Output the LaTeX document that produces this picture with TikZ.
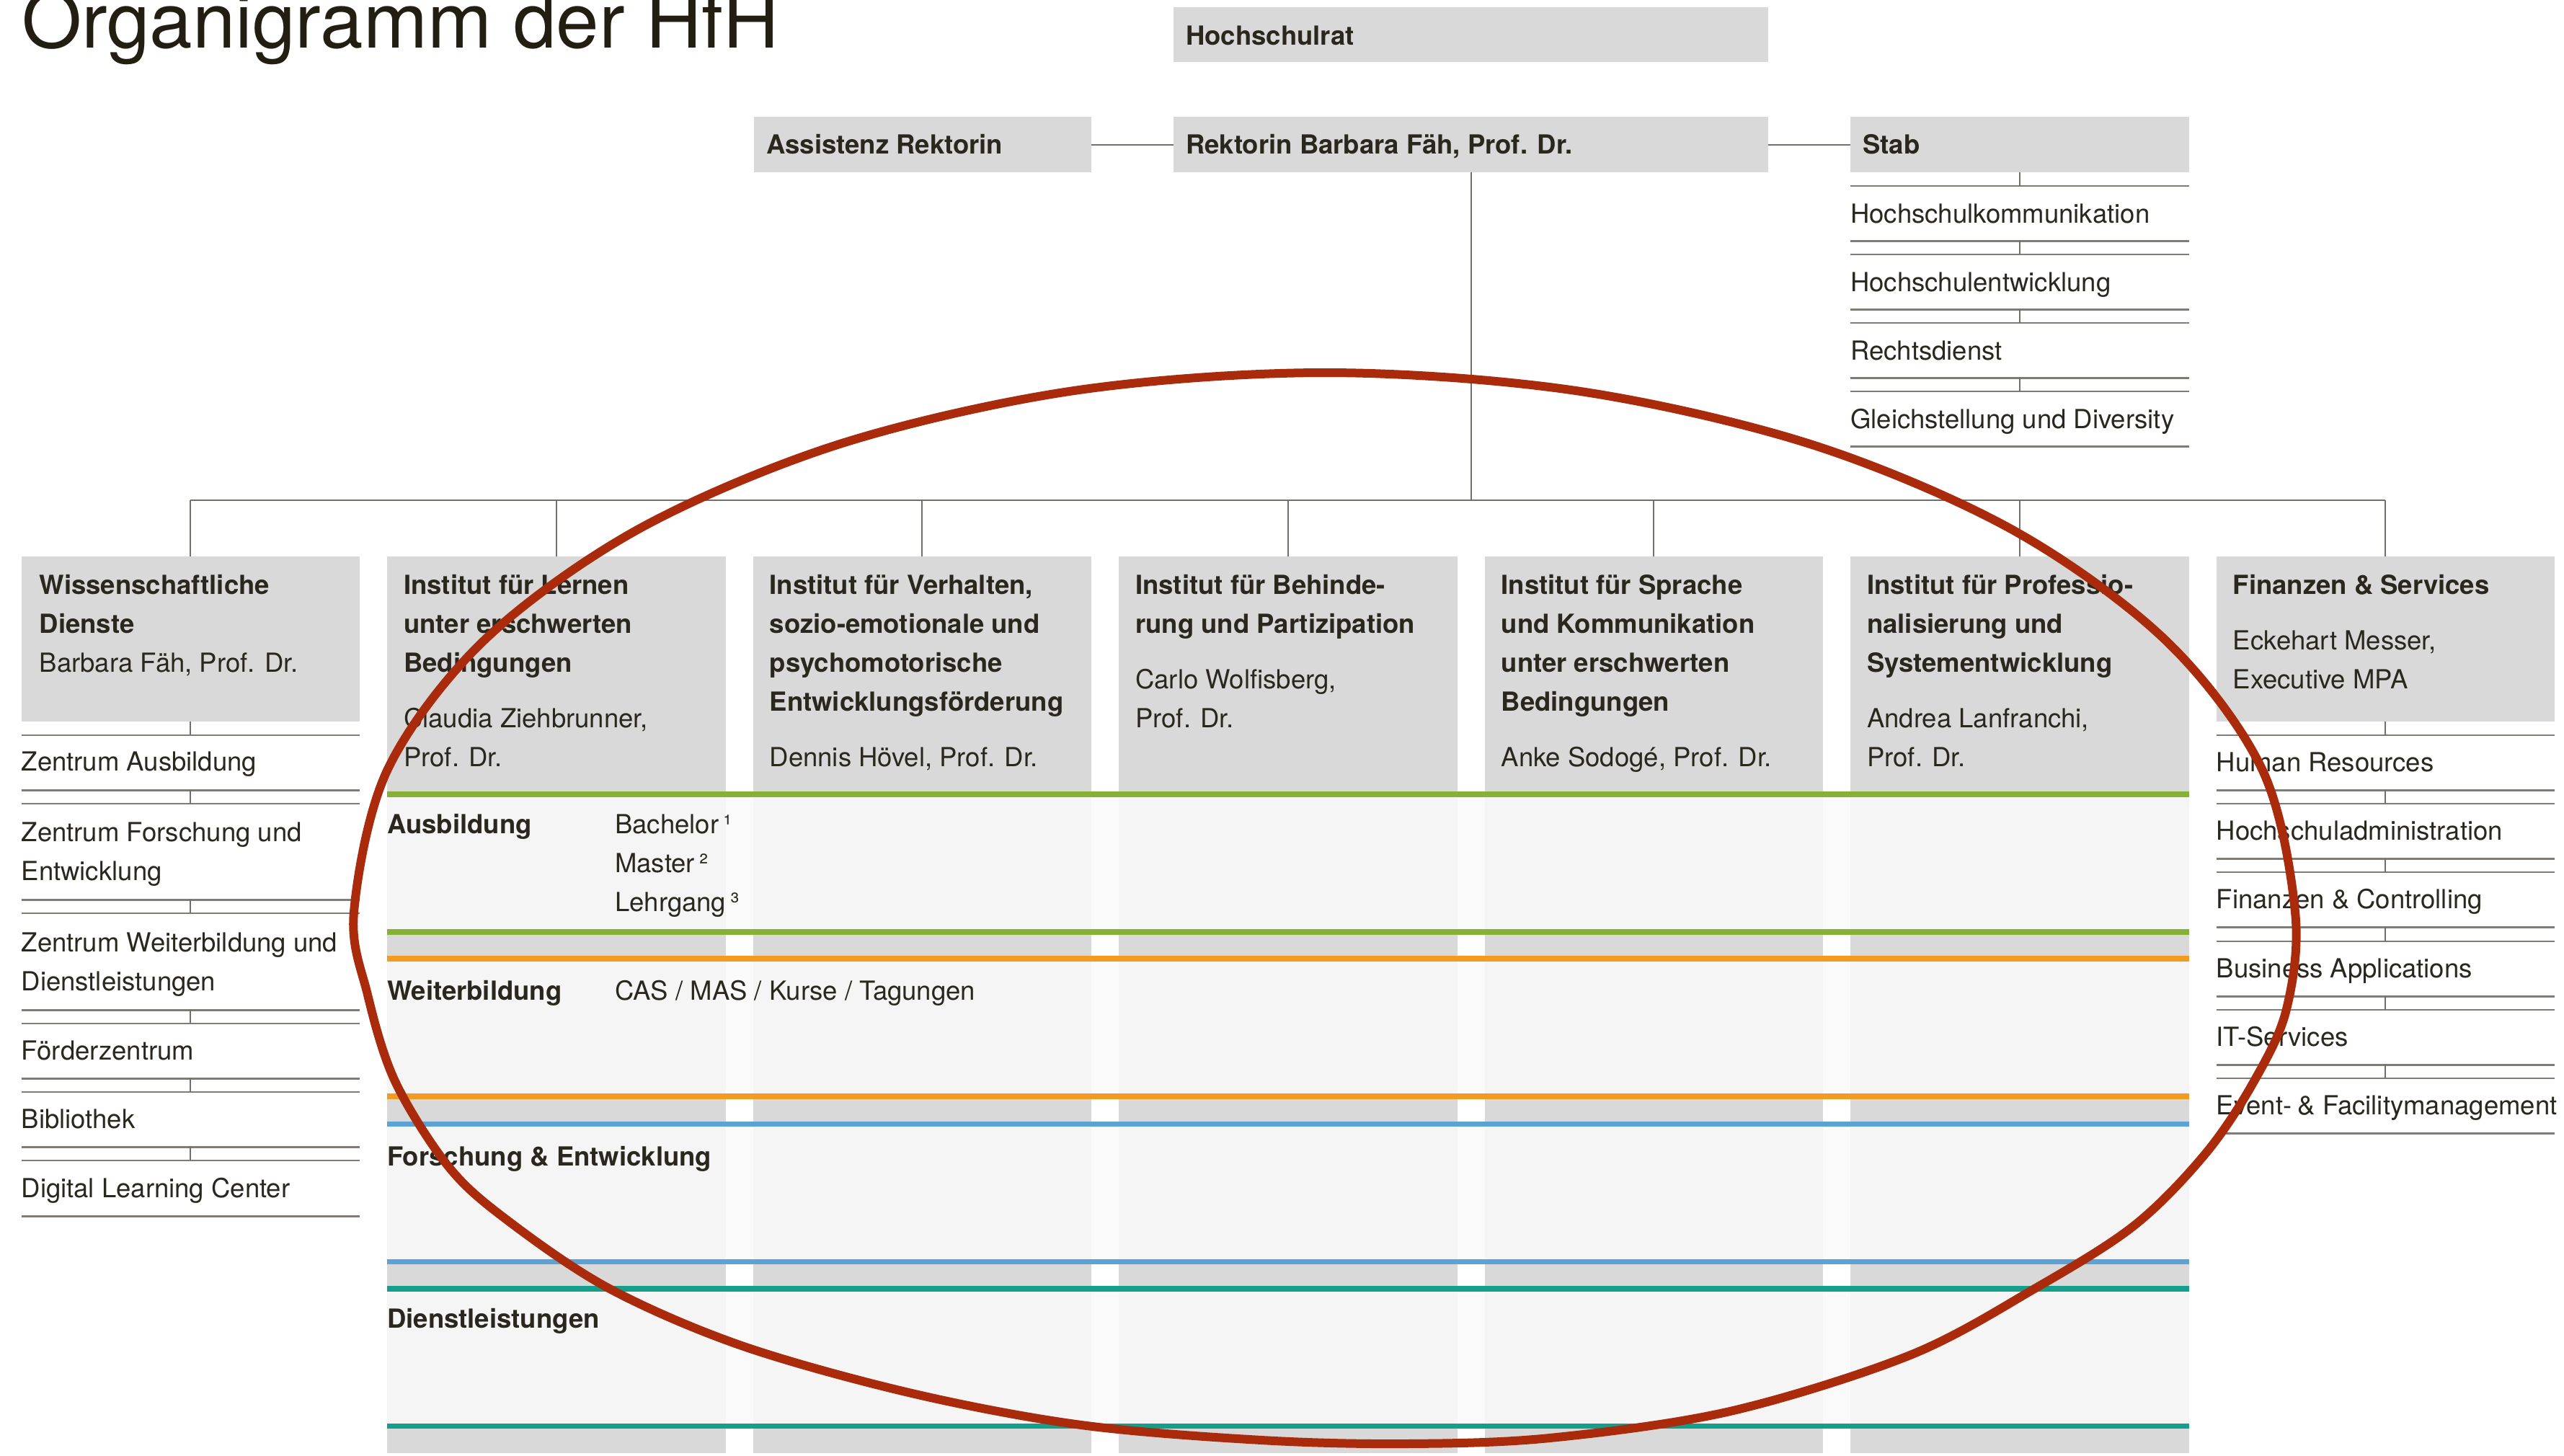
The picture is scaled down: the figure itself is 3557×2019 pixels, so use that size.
\documentclass[tikz,border=0pt]{standalone}
\usepackage{fontspec}
\setmainfont{TeX Gyre Heros}
\definecolor{boxgrey}{HTML}{D9D9D9}
\definecolor{lightbg}{HTML}{F5F5F5}
\definecolor{gapbg}{HTML}{FAFAFA}
\definecolor{txt}{HTML}{2A271E}
\definecolor{titlec}{HTML}{221E12}
\definecolor{linegrey}{HTML}{7E7C74}
\definecolor{conncol}{HTML}{717069}
\definecolor{hgreen}{HTML}{86B134}
\definecolor{horange}{HTML}{F39A21}
\definecolor{hblue}{HTML}{5CA2D4}
\definecolor{hteal}{HTML}{149E8C}
\definecolor{ellred}{HTML}{AA2A0C}
\newcommand\fsz{\fontsize{36.5}{54}\selectfont}
\tikzset{
  box/.style={rectangle, fill=boxgrey, draw=none, inner sep=0pt, anchor=north west, minimum width=469.5pt},
  lbl/.style={inner sep=0pt, anchor=base west, text=txt, font=\fsz},
  blbl/.style={inner sep=0pt, anchor=base west, text=txt, font=\fsz\bfseries},
  item/.style={rectangle, draw=none, inner sep=0pt, anchor=north west, minimum width=469.5pt, minimum height=76pt},
  sepline/.style={draw=linegrey, line width=2.5pt},
  conn/.style={draw=conncol, line width=2pt},
}
\begin{document}
\begin{tikzpicture}[x=1pt,y=-1pt]
\fill[white] (0,0) rectangle (3557,2019);
\useasboundingbox (0,0) rectangle (3557,2019);

% title
\node[anchor=base west, inner sep=0pt, text=titlec, font=\fontsize{107}{120}\selectfont] (title) at (30,66) {Organigramm der HfH};

% top row
\node[box, minimum width=825pt, minimum height=76pt] (hr) at (1628,10) {};
\node[blbl] (hrt) at ([xshift=17pt,yshift=-52pt]hr.north west) {Hochschulrat};
\node[box, minimum width=468pt, minimum height=77pt] (as) at (1046,162) {};
\node[blbl] (ast) at ([xshift=17pt,yshift=-51pt]as.north west) {Assistenz Rektorin};
\node[box, minimum width=825pt, minimum height=77pt] (rk) at (1628,162) {};
\node[blbl] (rkt) at ([xshift=17pt,yshift=-51pt]rk.north west) {Rektorin Barbara Fäh, Prof. Dr.};
\node[box, minimum height=77pt] (st) at (2567,162) {};
\node[blbl] (stt) at ([xshift=17pt,yshift=-51pt]st.north west) {Stab};
\draw[conn] (as.east) -- (rk.west);
\draw[conn] (rk.east) -- (st.west);

% Stab items
\node[item] (s1) at (2567,258) {};
\node[item] (s2) at (2567,353) {};
\node[item] (s3) at (2567,448) {};
\node[item] (s4) at (2567,543) {};
\node[lbl] (s1t) at ([yshift=-51pt]s1.north west) {Hochschulkommunikation};
\node[lbl] (s2t) at ([yshift=-51pt]s2.north west) {Hochschulentwicklung};
\node[lbl] (s3t) at ([yshift=-51pt]s3.north west) {Rechtsdienst};
\node[lbl] (s4t) at ([yshift=-51pt]s4.north west) {Gleichstellung und Diversity};
\foreach \n in {s1,s2,s3,s4}{
  \draw[sepline] (\n.north west) -- (\n.north east);
  \draw[sepline] (\n.south west) -- (\n.south east);
}
\draw[conn] (st.south) -- (s1.north);
\draw[conn] (s1.south) -- (s2.north);
\draw[conn] (s2.south) -- (s3.north);
\draw[conn] (s3.south) -- (s4.north);

% columns
\node[box, minimum height=229pt] (c1) at (29.5,772) {};
\node[box, minimum height=1244pt] (c2) at (537,772) {};
\node[box, minimum height=1244pt] (c3) at (1044.5,772) {};
\node[box, minimum height=1244pt] (c4) at (1552,772) {};
\node[box, minimum height=1244pt] (c5) at (2059.5,772) {};
\node[box, minimum height=1244pt] (c6) at (2567,772) {};
\node[box, minimum height=229pt] (c7) at (3074.5,772) {};

% sections in institute columns
\foreach \a/\b/\c/\d/\cc in {1098/1106/1289/1297/hgreen, 1326/1334/1517/1525/horange, 1556/1563/1747/1754/hblue, 1784/1792/1975/1982/hteal}{
  \fill[gapbg] (537,\b) rectangle (3036.5,\c);
  \foreach \L in {537,1044.5,1552,2059.5,2567}{
    \fill[lightbg] (\L,\b) rectangle ({\L+469.5},\c);
  }
  \fill[\cc] (537,\a) rectangle (3036.5,\b);
  \fill[\cc] (537,\c) rectangle (3036.5,\d);
}

% bus connectors
\coordinate (bus) at (0,694);
\draw[conn] (c1.north |- bus) -- (c7.north |- bus);
\draw[conn] (rk.south) -- (rk.south |- bus);
\foreach \n in {c1,c2,c3,c4,c5,c6,c7}{
  \draw[conn] (\n.north |- bus) -- (\n.north);
}

% column headers
\node[lbl] (c1t) at ([xshift=25pt,yshift=-52pt]c1.north west) {\parbox[t]{440pt}{\raggedright\bfseries Wissenschaftliche\\Dienste\\\mdseries Barbara Fäh, Prof. Dr.}};
\node[lbl] (c2t) at ([xshift=23pt,yshift=-52pt]c2.north west) {\parbox[t]{440pt}{\raggedright\bfseries Institut für Lernen\\unter erschwerten\\Bedingungen\\[23pt]\mdseries Claudia Ziehbrunner,\\Prof. Dr.}};
\node[lbl] (c3t) at ([xshift=23pt,yshift=-52pt]c3.north west) {\parbox[t]{440pt}{\raggedright\bfseries Institut für Verhalten,\\sozio-emotionale und\\psychomotorische\\Entwicklungsförderung\\[23pt]\mdseries Dennis Hövel, Prof. Dr.}};
\node[lbl] (c4t) at ([xshift=23pt,yshift=-52pt]c4.north west) {\parbox[t]{440pt}{\raggedright\bfseries Institut für Behinde-\\rung und Partizipation\\[23pt]\mdseries Carlo Wolfisberg,\\Prof. Dr.}};
\node[lbl] (c5t) at ([xshift=23pt,yshift=-52pt]c5.north west) {\parbox[t]{440pt}{\raggedright\bfseries Institut für Sprache\\und Kommunikation\\unter erschwerten\\Bedingungen\\[23pt]\mdseries Anke Sodogé, Prof. Dr.}};
\node[lbl] (c6t) at ([xshift=23pt,yshift=-52pt]c6.north west) {\parbox[t]{440pt}{\raggedright\bfseries Institut für Professio-\\nalisierung und\\Systementwicklung\\[23pt]\mdseries Andrea Lanfranchi,\\Prof. Dr.}};
\node[lbl] (c7t) at ([xshift=23pt,yshift=-52pt]c7.north west) {\parbox[t]{440pt}{\raggedright\bfseries Finanzen \& Services\\[23pt]\mdseries Eckehart Messer,\\Executive MPA}};

% section labels
\node[blbl] (ausb) at (537,1156) {Ausbildung};
\node[lbl] (ausbl) at (853,1156) {\parbox[t]{400pt}{\raggedright Bachelor\,¹\\Master\,²\\Lehrgang\,³}};
\node[blbl] (weit) at (537,1387) {Weiterbildung};
\node[lbl] (weitl) at (853,1387) {CAS / MAS / Kurse / Tagungen};
\node[blbl] (fue) at (537,1617) {Forschung \& Entwicklung};
\node[blbl] (dl) at (537,1842) {Dienstleistungen};

% WD items
\node[item] (w1) at (29.5,1020) {};
\node[item, minimum height=133pt] (w2) at (29.5,1115) {};
\node[item, minimum height=134pt] (w3) at (29.5,1267) {};
\node[item] (w4) at (29.5,1420) {};
\node[item] (w5) at (29.5,1515) {};
\node[item, minimum height=77pt] (w6) at (29.5,1610) {};
\node[lbl] (w1t) at ([yshift=-49pt]w1.north west) {Zentrum Ausbildung};
\node[lbl] (w2t) at ([yshift=-52pt]w2.north west) {\parbox[t]{460pt}{\raggedright Zentrum Forschung und\\Entwicklung}};
\node[lbl] (w3t) at ([yshift=-53pt]w3.north west) {\parbox[t]{460pt}{\raggedright Zentrum Weiterbildung und\\Dienstleistungen}};
\node[lbl] (w4t) at ([yshift=-50pt]w4.north west) {Förderzentrum};
\node[lbl] (w5t) at ([yshift=-50pt]w5.north west) {Bibliothek};
\node[lbl] (w6t) at ([yshift=-51pt]w6.north west) {Digital Learning Center};
\foreach \n in {w1,w2,w3,w4,w5,w6}{
  \draw[sepline] (\n.north west) -- (\n.north east);
  \draw[sepline] (\n.south west) -- (\n.south east);
}
\draw[conn] (c1.south) -- (w1.north);
\draw[conn] (w1.south) -- (w2.north);
\draw[conn] (w2.south) -- (w3.north);
\draw[conn] (w3.south) -- (w4.north);
\draw[conn] (w4.south) -- (w5.north);
\draw[conn] (w5.south) -- (w6.north);

% Finanzen items
\node[item] (f1) at (3074.5,1020) {};
\node[item] (f2) at (3074.5,1115) {};
\node[item] (f3) at (3074.5,1210) {};
\node[item] (f4) at (3074.5,1306) {};
\node[item] (f5) at (3074.5,1401) {};
\node[item] (f6) at (3074.5,1496) {};
\node[lbl] (f1t) at ([yshift=-50pt]f1.north west) {Human Resources};
\node[lbl] (f2t) at ([yshift=-50pt]f2.north west) {Hochschuladministration};
\node[lbl] (f3t) at ([yshift=-50pt]f3.north west) {Finanzen \& Controlling};
\node[lbl] (f4t) at ([yshift=-50pt]f4.north west) {Business Applications};
\node[lbl] (f5t) at ([yshift=-50pt]f5.north west) {IT-Services};
\node[lbl] (f6t) at ([yshift=-50pt]f6.north west) {Event-\kern-2pt\ \& Facilitymanagement};
\foreach \n in {f1,f2,f3,f4,f5,f6}{
  \draw[sepline] (\n.north west) -- (\n.north east);
  \draw[sepline] (\n.south west) -- (\n.south east);
}
\draw[conn] (c7.south) -- (f1.north);
\draw[conn] (f1.south) -- (f2.north);
\draw[conn] (f2.south) -- (f3.north);
\draw[conn] (f3.south) -- (f4.north);
\draw[conn] (f4.south) -- (f5.north);
\draw[conn] (f5.south) -- (f6.north);

% red hand-drawn ellipse
\draw[ellred, line width=12pt, line join=round] plot[smooth cycle, tension=0.55] coordinates {
 (491,1265) (538,1067) (672,888) (886,734) (1165,616) (1490,542) (1838,517)
 (2186,542) (2511,616) (2790,734) (3004,888) (3138,1067) (3184,1265) (3172,1400)
 (3127,1500) (3060,1600) (2961,1700) (2824,1787) (2650,1880) (2400,1958)
 (2150,1995) (1950,2003) (1750,1998) (1500,1977) (1265,1933) (1029,1867)
 (844,1787) (700,1690) (621,1617) (548,1500) (510,1380)};
\end{tikzpicture}
\end{document}
